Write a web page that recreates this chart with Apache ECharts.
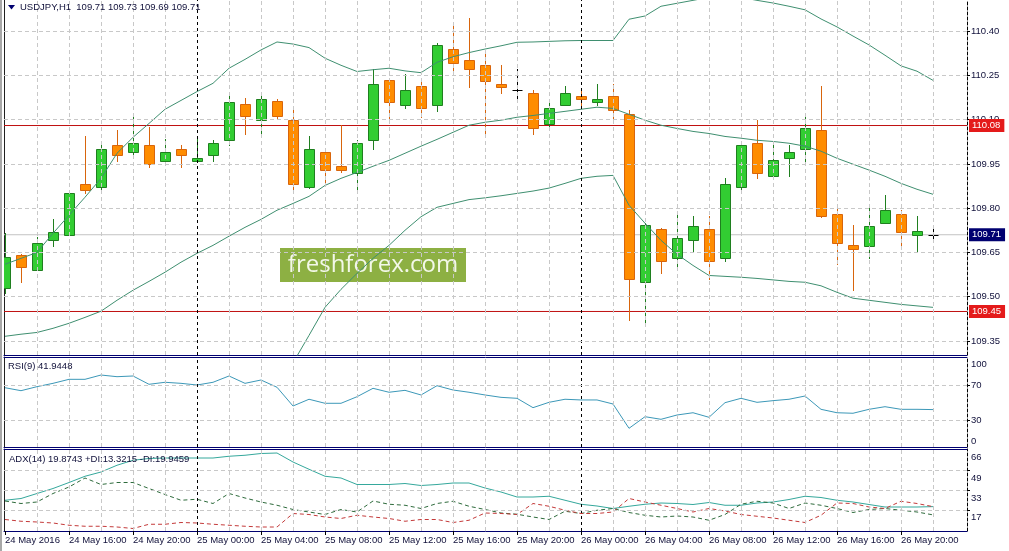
<!DOCTYPE html>
<html>
<head>
<meta charset="utf-8">
<script src="https://cdn.jsdelivr.net/npm/echarts@6/dist/echarts.min.js"></script>
<style>
html,body{margin:0;padding:0;background:#fff;}
#c{width:1009px;height:551px;}
</style>
</head>
<body>
<div id="c"></div>
<script>
// ---------------- data ----------------
const SYMBOL = 'USDJPY';
const TIMEFRAME = 'H1';
const RSI_TITLE = 'RSI(9) 41.9448';
const ADX_TITLE = 'ADX(14) 19.8743 +DI:13.3215 -DI:19.9459';
const WATERMARK = 'freshforex.com';

const TIME_LABELS = ['24 May 2016','24 May 16:00','24 May 20:00','25 May 00:00','25 May 04:00',
  '25 May 08:00','25 May 12:00','25 May 16:00','25 May 20:00','26 May 00:00','26 May 04:00',
  '26 May 08:00','26 May 12:00','26 May 16:00','26 May 20:00'];
const TIME_LABEL_INDEX = [0,4,8,12,16,20,24,28,32,36,40,44,48,52,56];
const DAY_SEPARATORS = [12,36];

const OPEN = [109.531,109.643,109.592,109.693,109.710,109.883,109.872,110.013,109.990,110.013,
  109.960,110.002,109.960,109.981,110.032,110.152,110.100,110.162,110.100,109.872,
  109.990,109.942,109.920,110.032,110.233,110.151,110.213,110.151,110.340,110.301,
  110.284,110.222,110.201,110.191,110.084,110.151,110.181,110.161,110.180,110.120,
  109.550,109.731,109.632,109.693,109.731,109.632,109.872,110.022,109.909,109.971,
  110.002,110.064,109.781,109.674,109.673,109.751,109.781,109.710,109.71];
const HIGH = [109.715,109.645,109.702,109.762,109.863,110.044,110.013,110.064,110.120,110.075,
  110.036,110.013,110.038,110.032,110.182,110.173,110.182,110.171,110.131,110.043,
  110.002,110.081,110.032,110.273,110.235,110.253,110.242,110.361,110.423,110.444,
  110.321,110.284,110.273,110.201,110.171,110.213,110.201,110.222,110.222,110.131,
  109.750,109.733,109.781,109.772,109.772,109.903,110.015,110.100,110.022,110.013,
  110.111,110.213,109.802,109.742,109.813,109.843,109.793,109.772,109.73];
const LOW = [109.511,109.550,109.590,109.672,109.708,109.851,109.851,109.960,109.971,109.939,
  109.958,109.939,109.958,109.960,110.013,110.052,110.052,110.105,109.851,109.870,
  109.874,109.922,109.863,110.002,110.100,110.140,110.109,110.129,110.261,110.210,
  110.052,110.190,110.171,110.052,110.073,110.150,110.151,110.151,110.100,109.422,
  109.411,109.580,109.601,109.651,109.561,109.621,109.851,109.903,109.907,109.909,
  109.951,109.770,109.612,109.522,109.631,109.749,109.663,109.651,109.69];
const CLOSE = [109.634,109.600,109.682,109.719,109.851,109.863,110.002,109.981,110.022,109.951,
  109.990,109.981,109.971,110.022,110.161,110.111,110.171,110.111,109.883,110.002,
  109.930,109.930,110.022,110.222,110.160,110.201,110.140,110.352,110.293,110.273,
  110.231,110.210,110.201,110.073,110.140,110.191,110.171,110.171,110.131,109.561,
  109.742,109.621,109.700,109.741,109.621,109.883,110.013,109.919,109.962,109.991,
  110.073,109.772,109.683,109.663,109.741,109.793,109.719,109.721,109.71];

const BB_UPPER = [109.610,109.630,109.650,109.715,109.776,109.837,109.901,109.986,110.040,110.087,
  110.135,110.165,110.195,110.223,110.274,110.304,110.336,110.363,110.356,110.344,
  110.308,110.284,110.263,110.269,110.274,110.265,110.259,110.294,110.313,110.327,
  110.339,110.350,110.362,110.363,110.365,110.367,110.368,110.368,110.368,110.440,
  110.451,110.484,110.494,110.504,110.514,110.518,110.514,110.504,110.495,110.484,
  110.472,110.441,110.414,110.383,110.353,110.318,110.282,110.264,110.233];
const BB_MIDDLE = [109.366,109.373,109.379,109.393,109.410,109.430,109.451,109.488,109.522,109.552,
  109.583,109.617,109.647,109.674,109.705,109.735,109.762,109.793,109.816,109.840,
  109.877,109.901,109.921,109.942,109.962,109.986,110.010,110.033,110.057,110.081,
  110.091,110.098,110.108,110.114,110.121,110.128,110.135,110.142,110.138,110.118,
  110.098,110.081,110.070,110.060,110.053,110.043,110.037,110.030,110.026,110.020,
  110.010,109.993,109.969,109.949,109.929,109.908,109.884,109.864,109.847];
const BB_LOWER = [109.122,109.116,109.108,109.071,109.044,109.023,109.001,108.990,109.004,109.017,
  109.031,109.069,109.099,109.125,109.136,109.166,109.188,109.223,109.276,109.369,
  109.464,109.525,109.579,109.630,109.674,109.725,109.771,109.803,109.816,109.829,
  109.835,109.842,109.850,109.858,109.868,109.884,109.901,109.908,109.911,109.810,
  109.749,109.691,109.644,109.606,109.572,109.569,109.566,109.562,109.557,109.552,
  109.549,109.537,109.515,109.495,109.488,109.481,109.474,109.469,109.464];

const RSI = [66.9,63.5,68.1,71.9,76.5,76.5,81.4,79.5,80.3,70.8,
  73.1,71.9,70.0,73.1,80.3,71.9,75.7,67.4,46.0,53.7,
  49.1,49.1,56.6,66.2,61.7,63.9,58.6,69.2,64.3,61.7,
  58.6,55.9,54.8,44.1,50.2,53.7,52.9,52.9,48.3,20.5,
  33.8,30.8,35.7,38.3,33.1,49.8,54.8,50.2,52.1,53.7,
  57.4,42.2,38.3,37.7,42.2,45.2,42.2,42.2,41.9];
const ADX = [25.0,26.4,30.4,34.4,39.2,44.2,47.6,53.0,57.0,58.4,
  58.8,58.8,58.8,58.8,60.2,61.0,62.4,62.8,55.6,49.8,
  44.2,42.8,37.6,37.6,37.6,38.4,36.8,37.6,38.8,38.8,
  34.8,31.6,27.6,27.6,28.2,25.0,21.8,20.4,18.4,20.2,
  21.8,22.8,22.4,21.6,23.2,21.0,21.0,22.8,23.6,25.6,
  28.2,27.2,25.0,23.6,21.6,19.6,19.6,19.6,19.9];
const PLUS_DI = [24.4,22.4,23.6,30.4,35.6,42.8,37.6,39.2,39.2,34.4,
  29.6,25.0,25.8,22.4,30.4,26.8,23.6,21.0,17.6,15.6,
  13.6,17.6,15.6,24.4,21.8,21.0,18.4,22.4,24.2,20.2,
  17.6,14.8,13.8,11.6,9.6,16.2,14.4,17.0,18.4,15.2,
  13.0,11.6,12.4,11.6,9.0,13.6,21.8,24.2,22.8,18.4,
  22.8,21.0,18.4,15.2,17.6,18.4,17.0,15.6,13.3];
const MINUS_DI = [9.6,8.2,7.6,6.8,5.0,4.2,4.2,3.6,2.4,5.8,
  5.8,7.2,6.8,5.8,5.0,4.2,3.6,3.6,14.4,13.6,
  11.6,10.4,13.0,11.6,10.4,8.2,9.6,9.6,7.2,9.0,
  14.8,14.4,13.6,22.4,20.2,17.0,14.4,14.4,15.6,26.4,
  23.6,21.0,18.4,15.6,18.4,16.4,13.6,12.2,10.8,9.0,
  7.2,13.0,22.8,22.4,19.6,18.4,24.2,22.4,19.9];

const PRICE_TICKS = [109.35,109.50,109.65,109.80,109.95,110.10,110.25,110.40];
const PRICE_LEVELS = [110.08,109.45];
const BID = 109.71;
const RSI_TICKS = [100,70,30,0];
const RSI_LEVELS = [70,30];
const ADX_TICKS = [66,49,33,17,1];
const ADX_GRID = [49,33,17];

// ---------------- style / layout ----------------
const FONT = 'Liberation Sans, Arial, sans-serif';
const FS = 9.5;
const TXT = '#10103a';
const NAVY = '#000070';
const GRIDC = '#c8c8c8';
const LEVEL_RED = '#c01010';
const X_MIN = -0.0625, X_MAX = 60.125;
const P_MIN = 109.3026, P_MAX = 110.5052;
const N = OPEN.length;

const evenIdx = [];
for (let i = 2; i < N; i += 2) if (DAY_SEPARATORS.indexOf(i) < 0) evenIdx.push(i);

function vGrid() {
  const a = evenIdx.map(i => ({ xAxis: i }));
  DAY_SEPARATORS.forEach(i => a.push({ xAxis: i, lineStyle: { color: '#000', type: [3, 3], width: 1 } }));
  return a;
}
function baseMarkLine(extra) {
  return {
    silent: true, symbol: ['none', 'none'], animation: false,
    label: { show: false },
    lineStyle: { color: GRIDC, type: [4, 3], width: 1 },
    data: extra
  };
}
function toXY(arr) { return arr.map((v, i) => [i, v]); }

// label positions (pixel offsets of MT4 sub-window labels)
const RSI_LABEL_AT = { 100: 94, 70: 70, 30: 30, 0: 6 };
const ADX_LABEL_AT = { 66: 59.6, 49: 42.6, 33: 26.4, 17: 11.2, 1: 6.2 };
function lookupLabel(map) {
  const keys = Object.keys(map);
  return v => { for (const k of keys) if (Math.abs(map[k] - v) < 1e-6) return k; return ''; };
}

function renderCandle(params, api) {
  const i = api.value(0), o = api.value(1), h = api.value(2), l = api.value(3), c = api.value(4);
  const pO = api.coord([i, o]), pC = api.coord([i, c]);
  const pH = api.coord([i, h]), pL = api.coord([i, l]);
  const half = Math.round(api.size([1, 0])[0] * 0.32);
  const cx = Math.round(pO[0]) + 0.5;
  const yTop = Math.round(Math.min(pO[1], pC[1])) + 0.5;
  const yBot = Math.round(Math.max(pO[1], pC[1])) + 0.5;
  const doji = Math.abs(c - o) < 1e-9;
  const up = c > o;
  const edge = doji ? '#000000' : (up ? '#1f7f1f' : '#d8650c');
  const fill = up ? '#32cd32' : '#ff8c00';
  const kids = [{
    type: 'line',
    shape: { x1: cx, y1: Math.round(pH[1]), x2: cx, y2: Math.round(pL[1]) + 1 },
    style: { stroke: edge, lineWidth: 1 }
  }];
  if (doji) {
    kids.push({ type: 'line', shape: { x1: cx - half, y1: yTop, x2: cx + half, y2: yTop },
      style: { stroke: '#000', lineWidth: 1 } });
  } else {
    kids.push({ type: 'rect',
      shape: { x: cx - half, y: yTop, width: 2 * half, height: Math.max(yBot - yTop, 1) },
      style: { fill: fill, stroke: edge, lineWidth: 1 } });
  }
  return { type: 'group', children: kids };
}

const candleData = OPEN.map((o, i) => [i, o, HIGH[i], LOW[i], CLOSE[i]]);
const last = N - 1;
const HEADER = SYMBOL + ',' + TIMEFRAME + '  ' + [OPEN[last], HIGH[last], LOW[last], CLOSE[last]].map(v => v.toFixed(2)).join(' ');

const xBase = { type: 'value', min: X_MIN, max: X_MAX, splitLine: { show: false },
  axisTick: { show: false }, axisLabel: { show: false },
  axisLine: { show: true, onZero: false, lineStyle: { color: NAVY, width: 1 } } };
const yLeft = { type: 'value', position: 'left', splitLine: { show: false }, axisTick: { show: false },
  axisLabel: { show: false }, axisLine: { show: true, onZero: false, lineStyle: { color: '#202020', width: 1 } } };
const yRightAxisLine = { show: true, onZero: false, lineStyle: { color: '#000', type: [3, 2], width: 1 } };
const labelStyle = { color: TXT, fontSize: FS, fontFamily: FONT, hideOverlap: false };

function levelSeries(p, lineColor, boxColor, z) {
  return {
    type: 'line', name: 'level ' + p, xAxisIndex: 0, yAxisIndex: 0, z: z, silent: true,
    data: [[X_MIN, p], [X_MAX, p]], symbol: 'none', clip: false,
    color: lineColor,
    lineStyle: { color: lineColor, width: 1, type: 'solid' },
    endLabel: { show: true, distance: 2, formatter: p.toFixed(2), backgroundColor: boxColor,
      color: '#ffffff', padding: [2, 4, 1, 3], fontSize: FS, fontFamily: FONT }
  };
}

const option = {
  animation: false,
  backgroundColor: '#ffffff',
  grid: [
    { left: 4, right: 42, top: 0, height: 355 },
    { left: 4, right: 42, top: 357, height: 90 },
    { left: 4, right: 42, top: 449, height: 82 }
  ],
  xAxis: [
    Object.assign({}, xBase, { gridIndex: 0, position: 'bottom' }),
    Object.assign({}, xBase, { gridIndex: 1, position: 'bottom' }),
    Object.assign({}, xBase, { gridIndex: 2, position: 'bottom',
      axisTick: { show: true, inside: false, length: 4, customValues: TIME_LABEL_INDEX, lineStyle: { color: '#000' } },
      axisLabel: Object.assign({ show: true, align: 'left', margin: 4, customValues: TIME_LABEL_INDEX,
        formatter: v => { const k = TIME_LABEL_INDEX.indexOf(Math.round(v)); return k >= 0 ? TIME_LABELS[k] : ''; } }, labelStyle) }),
    Object.assign({}, xBase, { gridIndex: 1, position: 'top' }),
    Object.assign({}, xBase, { gridIndex: 2, position: 'top' })
  ],
  yAxis: [
    { type: 'value', gridIndex: 0, position: 'right', min: P_MIN, max: P_MAX,
      splitLine: { show: false }, axisLine: yRightAxisLine,
      axisTick: { show: true, inside: false, length: 3, customValues: PRICE_TICKS, lineStyle: { color: '#000' } },
      axisLabel: Object.assign({ show: true, margin: 4, customValues: PRICE_TICKS, formatter: v => v.toFixed(2) }, labelStyle) },
    { type: 'value', gridIndex: 1, position: 'right', min: -0.857, max: 102,
      splitLine: { show: false }, axisLine: yRightAxisLine,
      axisTick: { show: true, inside: false, length: 3, customValues: RSI_LEVELS, lineStyle: { color: '#000' } },
      axisLabel: Object.assign({ show: true, margin: 4, customValues: RSI_TICKS.map(t => RSI_LABEL_AT[t]),
        formatter: lookupLabel(RSI_LABEL_AT) }, labelStyle) },
    { type: 'value', gridIndex: 2, position: 'right', min: 0.4, max: 66,
      splitLine: { show: false }, axisLine: yRightAxisLine,
      axisTick: { show: true, inside: false, length: 3, customValues: ADX_GRID, lineStyle: { color: '#000' } },
      axisLabel: Object.assign({ show: true, margin: 4, customValues: ADX_TICKS.map(t => ADX_LABEL_AT[t]),
        formatter: lookupLabel(ADX_LABEL_AT) }, labelStyle) },
    Object.assign({}, yLeft, { gridIndex: 0, min: P_MIN, max: P_MAX }),
    Object.assign({}, yLeft, { gridIndex: 1, min: -0.857, max: 102 }),
    Object.assign({}, yLeft, { gridIndex: 2, min: 0.4, max: 66 })
  ],
  series: [
    // grid lines, main panel
    { type: 'line', xAxisIndex: 0, yAxisIndex: 0, data: [], z: 1,
      markLine: baseMarkLine(vGrid().concat(PRICE_TICKS.map(p => ({ yAxis: p })))) },
    // bid line and price levels
    levelSeries(BID, '#c4c4c4', '#000070', 2),
    levelSeries(PRICE_LEVELS[0], LEVEL_RED, '#e41a1a', 2),
    levelSeries(PRICE_LEVELS[1], LEVEL_RED, '#e41a1a', 2),
    // candles
    { type: 'custom', name: 'USDJPY', xAxisIndex: 0, yAxisIndex: 0, z: 3, clip: true,
      renderItem: renderCandle, encode: { x: 0, y: [1, 2, 3, 4] }, data: candleData },
    // Bollinger bands
    { type: 'line', name: 'BB upper', xAxisIndex: 0, yAxisIndex: 0, z: 4, data: toXY(BB_UPPER),
      symbol: 'none', clip: true, lineStyle: { color: '#3f8f70', width: 1 } },
    { type: 'line', name: 'BB middle', xAxisIndex: 0, yAxisIndex: 0, z: 4, data: toXY(BB_MIDDLE),
      symbol: 'none', clip: true, lineStyle: { color: '#3f8f70', width: 1 } },
    { type: 'line', name: 'BB lower', xAxisIndex: 0, yAxisIndex: 0, z: 4, data: toXY(BB_LOWER),
      symbol: 'none', clip: true, lineStyle: { color: '#3f8f70', width: 1 } },
    // RSI panel
    { type: 'line', name: 'RSI', xAxisIndex: 1, yAxisIndex: 1, z: 4, data: toXY(RSI),
      symbol: 'none', clip: true, lineStyle: { color: '#3c98b8', width: 1 },
      markLine: baseMarkLine(vGrid().concat(RSI_LEVELS.map(v => ({ yAxis: v })))) },
    // ADX panel
    { type: 'line', name: 'ADX', xAxisIndex: 2, yAxisIndex: 2, z: 4, data: toXY(ADX),
      symbol: 'none', clip: true, lineStyle: { color: '#35a89c', width: 1 },
      markLine: baseMarkLine(vGrid().concat(ADX_GRID.map(v => ({ yAxis: v })))) },
    { type: 'line', name: '+DI', xAxisIndex: 2, yAxisIndex: 2, z: 4, data: toXY(PLUS_DI),
      symbol: 'none', clip: true, lineStyle: { color: '#2e6b3c', width: 1, type: [4, 3] } },
    { type: 'line', name: '-DI', xAxisIndex: 2, yAxisIndex: 2, z: 4, data: toXY(MINUS_DI),
      symbol: 'none', clip: true, lineStyle: { color: '#c43a3a', width: 1, type: [4, 3] } }
  ],
  graphic: [
    { type: 'rect', shape: { x: 0, y: 0, width: 2, height: 551 }, style: { fill: '#a8a8a8' }, z: 100 },
    { type: 'polygon', shape: { points: [[8, 5], [15, 5], [11.5, 9.5]] }, style: { fill: NAVY }, z: 100 },
    { type: 'text', x: 20, y: 7.5, z: 100,
      style: { text: HEADER, fill: TXT, font: FS + 'px ' + FONT, verticalAlign: 'middle' } },
    { type: 'text', x: 8, y: 366, z: 100,
      style: { text: RSI_TITLE, fill: TXT, font: FS + 'px ' + FONT, verticalAlign: 'middle' } },
    { type: 'text', x: 9, y: 459, z: 100,
      style: { text: ADX_TITLE, fill: TXT, font: FS + 'px ' + FONT, verticalAlign: 'middle' } },
    { type: 'group', x: 280, y: 248, z: 100, children: [
      { type: 'rect', shape: { x: 0, y: 0, width: 186, height: 34 }, style: { fill: '#8db043' } },
      { type: 'text', x: 93, y: 17, style: { text: WATERMARK, fill: '#f3f8e8',
        font: '24px "Open Sans", sans-serif', align: 'center', verticalAlign: 'middle' } }
    ] }
  ]
};

const chart = echarts.init(document.getElementById('c'), null, { renderer: 'canvas' });
chart.setOption(option);
</script>
</body>
</html>
